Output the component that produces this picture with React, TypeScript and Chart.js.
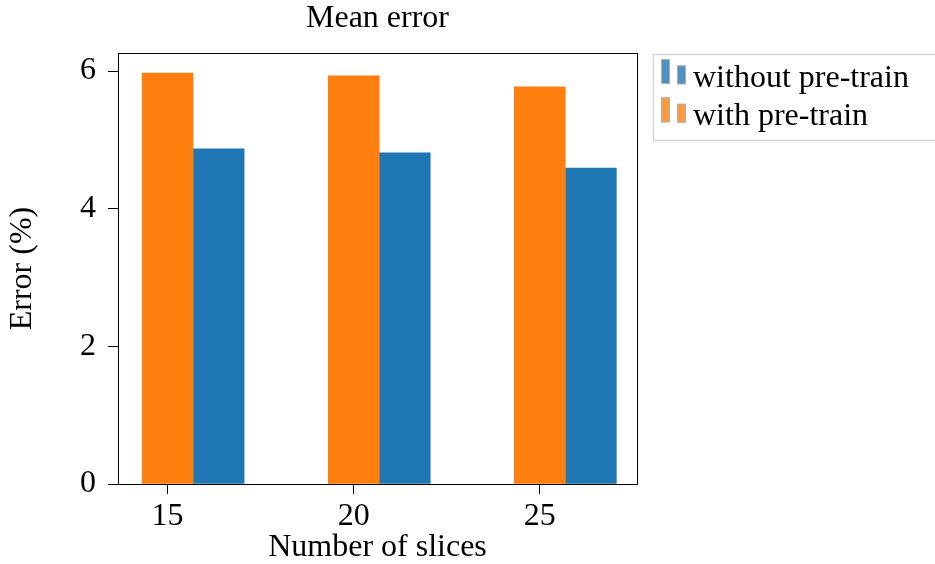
import { useEffect, useRef } from "react";
import { Chart, registerables } from "chart.js";

Chart.register(...registerables);

// ---- data ----
const categories = [15, 20, 25];
const withoutPretrain = [4.87, 4.81, 4.59];
const withPretrain = [5.97, 5.93, 5.77];
const xTicks = [15, 20, 25];
const yTicks = [0, 2, 4, 6];
const seriesLabels = ["without pre-train", "with pre-train"];
const titleText = "Mean error";
const xTitle = "Number of slices";
const yTitle = "Error (%)";
const barOffset = 1.37;

const FONT_FAMILY = "'Liberation Serif', 'Times New Roman', serif";
const FONT_SIZE = 32;
const BLUE = "#1f77b4";
const ORANGE = "#ff7f0e";
const BLUE_L = "rgba(31,119,180,0.8)";
const ORANGE_L = "rgba(255,127,14,0.8)";

const framePlugin = {
  id: "frame",
  afterDatasetsDraw(chart: any) {
    const { ctx, chartArea } = chart;
    ctx.save();
    ctx.strokeStyle = "#000";
    ctx.lineWidth = 1;
    ctx.strokeRect(
      Math.round(chartArea.left) + 0.5,
      Math.round(chartArea.top) + 0.5,
      Math.round(chartArea.right - chartArea.left),
      Math.round(chartArea.bottom - chartArea.top)
    );
    ctx.restore();
  },
};

const legendPlugin = {
  id: "boxLegend",
  afterDraw(chart: any) {
    const { ctx, chartArea } = chart;
    const left = Math.round(chartArea.right) + 16;
    const top = Math.round(chartArea.top) + 1;
    const rowH = 38.3;
    const items = [
      { label: seriesLabels[0], color: BLUE_L },
      { label: seriesLabels[1], color: ORANGE_L },
    ];
    ctx.save();
    ctx.strokeStyle = "#d6d6d6";
    ctx.lineWidth = 1.5;
    ctx.strokeRect(left + 0.5, top + 0.5, 320, 86);
    items.forEach((it, i) => {
      const y0 = top + 5 + i * rowH;
      ctx.fillStyle = it.color;
      ctx.strokeStyle = "#b0b0b0";
      ctx.lineWidth = 1;
      ctx.fillRect(left + 8, y0, 9, 25);
      ctx.strokeRect(left + 8.5, y0 + 0.5, 8, 24);
      ctx.fillRect(left + 24, y0 + 6.5, 9, 18.5);
      ctx.strokeRect(left + 24.5, y0 + 7, 8, 18);
      ctx.fillStyle = "#000";
      ctx.font = `${FONT_SIZE}px ${FONT_FAMILY}`;
      ctx.textAlign = "left";
      ctx.textBaseline = "alphabetic";
      ctx.fillText(it.label, left + 40, top + 32.5 + i * rowH);
    });
    ctx.restore();
  },
};

export default function App() {
  const canvasRef = useRef<HTMLCanvasElement | null>(null);

  useEffect(() => {
    document.body.style.margin = "0";
    const canvas = canvasRef.current;
    if (!canvas) return;
    Chart.defaults.font.family = FONT_FAMILY;
    Chart.defaults.color = "#000";

    const chart = new Chart(canvas, {
      type: "bar",
      data: {
        datasets: [
          {
            label: seriesLabels[1],
            data: categories.map((c, i) => ({ x: c, y: withPretrain[i] })),
            backgroundColor: ORANGE,
            borderWidth: 0,
          },
          {
            label: seriesLabels[0],
            data: categories.map((c, i) => ({ x: c + barOffset, y: withoutPretrain[i] })),
            backgroundColor: BLUE,
            borderWidth: 0,
          },
        ],
      },
      options: {
        animation: false,
        responsive: true,
        maintainAspectRatio: false,
        grouped: false,
        barPercentage: 1,
        categoryPercentage: 1,
        layout: { padding: { left: 0, right: 298, top: 0, bottom: 0 } },
        plugins: {
          legend: { display: false },
          tooltip: { enabled: false },
          title: {
            display: true,
            text: titleText,
            fullSize: false,
            color: "#000",
            font: { size: FONT_SIZE, weight: "normal", family: FONT_FAMILY, lineHeight: 1 },
            padding: { top: 3, bottom: 18 },
          },
        },
        scales: {
          x: {
            type: "linear",
            offset: false,
            min: 13.667,
            max: 27.61,
            afterBuildTicks: (scale: any) => {
              scale.ticks = xTicks.map((v) => ({ value: v }));
            },
            afterFit: (scale: any) => {
              scale.height = 80;
            },
            grid: {
              display: true,
              offset: false,
              drawOnChartArea: false,
              drawTicks: true,
              tickLength: 10,
              tickColor: "#000",
              tickWidth: 1,
            },
            border: { display: false },
            ticks: {
              color: "#000",
              padding: 3,
              font: { size: FONT_SIZE, family: FONT_FAMILY },
              callback: (v: any) => String(v),
            },
            title: {
              display: true,
              text: xTitle,
              color: "#000",
              font: { size: FONT_SIZE, family: FONT_FAMILY, lineHeight: 1 },
              padding: { top: 0, bottom: 0 },
            },
          },
          y: {
            type: "linear",
            min: 0,
            max: 6.262,
            afterBuildTicks: (scale: any) => {
              scale.ticks = yTicks.map((v) => ({ value: v }));
            },
            afterFit: (scale: any) => {
              scale.width = 118;
            },
            grid: {
              display: true,
              drawOnChartArea: false,
              drawTicks: true,
              tickLength: 10,
              tickColor: "#000",
              tickWidth: 1,
            },
            border: { display: false },
            ticks: {
              color: "#000",
              padding: 12,
              font: { size: FONT_SIZE, family: FONT_FAMILY },
              callback: (v: any) => String(v),
            },
            title: {
              display: true,
              text: yTitle,
              color: "#000",
              font: { size: FONT_SIZE, family: FONT_FAMILY },
              padding: { top: 3, bottom: 0 },
            },
          },
        },
      } as any,
      plugins: [framePlugin, legendPlugin],
    });

    return () => {
      chart.destroy();
    };
  }, []);

  return (
    <div style={{ width: 935, height: 564, position: "relative" }}>
      <canvas ref={canvasRef} />
    </div>
  );
}
